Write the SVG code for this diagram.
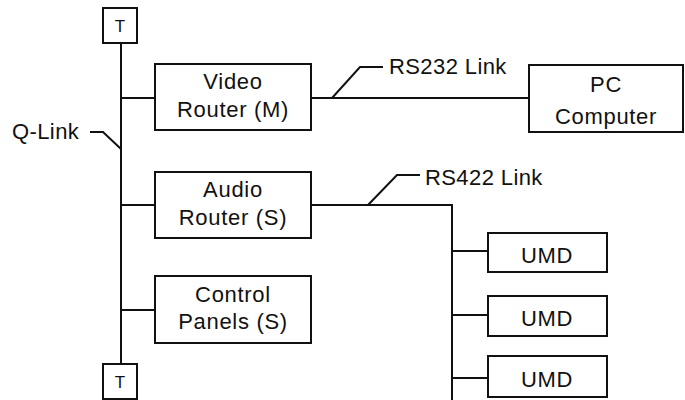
<svg xmlns="http://www.w3.org/2000/svg" width="685" height="400" viewBox="0 0 685 400">
<style>
.box{fill:#fff;stroke:#111;stroke-width:2}
.ln{fill:none;stroke:#111;stroke-width:2}
.t{font-family:"Liberation Sans",Arial,sans-serif;font-size:22px;letter-spacing:0.7px;fill:#111;text-anchor:middle}
.l{font-family:"Liberation Sans",Arial,sans-serif;font-size:22px;letter-spacing:0.4px;fill:#111}
.s{font-family:"Liberation Sans",Arial,sans-serif;font-size:17px;fill:#111;text-anchor:middle}
</style>
<rect width="685" height="400" fill="#fff"/>
<g id="connectors">
<path class="ln" d="M121 43V364"/>
<path class="ln" d="M121 98H155M121 205H155M121 310H155"/>
<path class="ln" d="M311 98H529"/>
<path class="ln" d="M311 205H452V400"/>
<path class="ln" d="M452 251H488M452 315H488M452 378H488"/>
<path class="ln" d="M90 132H103L121 149"/>
<path class="ln" d="M332 98L360 67H383"/>
<path class="ln" d="M368 205L397 175H420"/>
</g>
<g id="labels">
<text class="l" x="12" y="139">Q-Link</text>
<text class="l" x="389" y="74">RS232 Link</text>
<text class="l" x="425" y="185">RS422 Link</text>
</g>
<g id="t-top"><rect class="box" x="103" y="8" width="34" height="35"/><text class="s" x="120" y="32">T</text></g>
<g id="t-bottom"><rect class="box" x="103" y="364" width="34" height="35"/><text class="s" x="120" y="388">T</text></g>
<g id="video-router"><rect class="box" x="155" y="64" width="156" height="66"/><text class="t" x="233" y="89">Video</text><text class="t" x="233" y="117">Router (M)</text></g>
<g id="audio-router"><rect class="box" x="155" y="172" width="156" height="66"/><text class="t" x="233" y="197">Audio</text><text class="t" x="233" y="225">Router (S)</text></g>
<g id="control-panels"><rect class="box" x="155" y="276" width="156" height="67"/><text class="t" x="233" y="302">Control</text><text class="t" x="233" y="329">Panels (S)</text></g>
<g id="pc-computer"><rect class="box" x="529" y="65" width="154" height="67"/><text class="t" x="606" y="92">PC</text><text class="t" x="606" y="124">Computer</text></g>
<g id="umd1"><rect class="box" x="488" y="233" width="119" height="39"/><text class="t" x="547" y="263">UMD</text></g>
<g id="umd2"><rect class="box" x="488" y="296" width="119" height="40"/><text class="t" x="547" y="326">UMD</text></g>
<g id="umd3"><rect class="box" x="488" y="356" width="119" height="41"/><text class="t" x="547" y="387">UMD</text></g>
</svg>
